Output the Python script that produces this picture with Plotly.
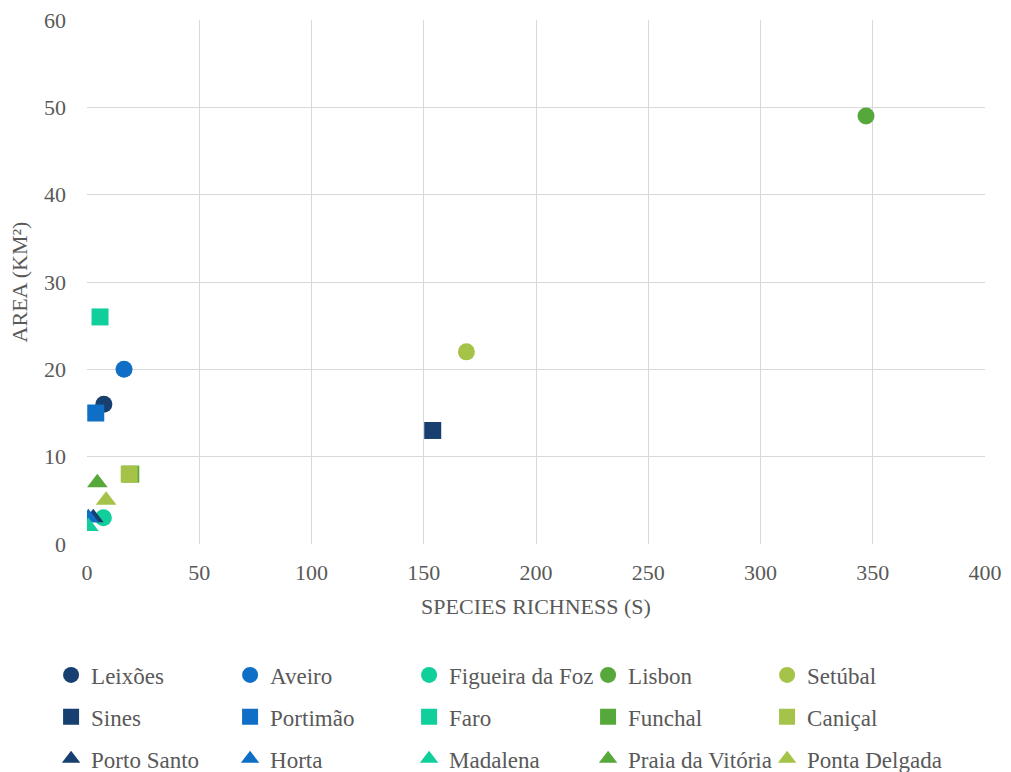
import plotly.graph_objects as go

names = ["Leixões", "Aveiro", "Figueira da Foz", "Lisbon", "Setúbal",
         "Sines", "Portimão", "Faro", "Funchal", "Caniçal",
         "Porto Santo", "Horta", "Madalena", "Praia da Vitória", "Ponta Delgada"]
species_richness = [7.5, 16.5, 7.3, 347, 169,
                    154, 3.9, 5.8, 19.5, 18.8,
                    2.8, 0.6, 0.6, 4.6, 8.5]
area_km2 = [16, 20, 3, 49, 22,
            13, 15, 26, 8, 8,
            3, 3, 2, 7, 5]
symbols = ["circle"] * 5 + ["square"] * 5 + ["triangle-up"] * 5
palette = ["#173F6F", "#0F6FC6", "#10CF9B", "#56A83A", "#A5C249"]
colors = palette * 3
legend_ids = ["legend"] * 5 + ["legend2"] * 5 + ["legend3"] * 5

fig = go.Figure()
for n, x, y, s, c, lg in zip(names, species_richness, area_km2, symbols, colors, legend_ids):
    fig.add_trace(go.Scatter(
        x=[x], y=[y], mode="markers", name=n, legend=lg,
        marker=dict(symbol=s, color=c, size=17 if s != "triangle-up" else 18,
                    line=dict(width=0)),
    ))

ff = "Liberation Serif"
txt = "#595959"

def leg(yc):
    return dict(orientation="h", x=-0.04, xanchor="left", y=yc, yanchor="middle",
                entrywidth=134, entrywidthmode="pixels", itemwidth=30,
                font=dict(family=ff, size=23, color=txt),
                bgcolor="rgba(0,0,0,0)")

fig.update_layout(
    width=1011, height=772,
    margin=dict(l=87, r=26, t=20, b=228, autoexpand=False),
    paper_bgcolor="white", plot_bgcolor="white",
    font=dict(family=ff, size=22, color=txt),
    xaxis=dict(range=[0, 400], dtick=50, showgrid=True, gridcolor="#D9D9D9", gridwidth=1.3,
               zeroline=False, showline=False, ticks="", ticklabelstandoff=13, automargin=False,
               title=dict(text="SPECIES RICHNESS (S)", font=dict(family=ff, size=22, color=txt), standoff=14),
               tickfont=dict(family=ff, size=22, color=txt)),
    yaxis=dict(range=[0, 60], dtick=10, showgrid=True, gridcolor="#D9D9D9", gridwidth=1.3,
               zeroline=False, showline=False, ticks="", ticklabelstandoff=20, automargin=False,
               title=dict(text="AREA (KM²)", font=dict(family=ff, size=22, color=txt), standoff=10),
               tickfont=dict(family=ff, size=22, color=txt)),
    legend=leg(-0.25),
    legend2=leg(-0.33),
    legend3=leg(-0.41),
)
fig.write_html("out.html")
